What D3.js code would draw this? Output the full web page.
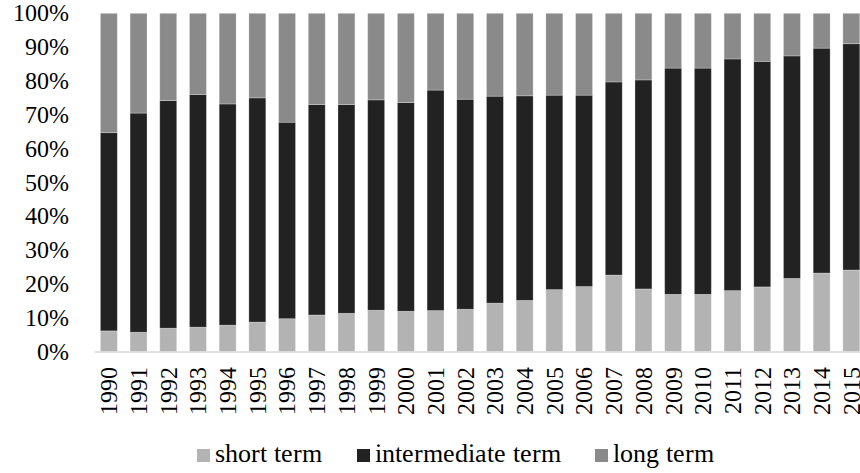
<!DOCTYPE html>
<html>
<head>
<meta charset="utf-8">
<script src="https://cdn.jsdelivr.net/npm/d3@7"></script>
<style>
  @font-face {
    font-family: 'RefSerif';
    src: local('Liberation Serif'), local('LiberationSerif'), local('LiberationSerif-Regular');
  }
  body { margin: 0; }
  #fig text { font-family: 'RefSerif', 'Liberation Serif', serif; }
</style>
</head>
<body>
<svg id="fig" width="860" height="473"></svg>
<script>
const years = ['1990', '1991', '1992', '1993', '1994', '1995', '1996', '1997', '1998', '1999',
  '2000', '2001', '2002', '2003', '2004', '2005', '2006', '2007', '2008', '2009',
  '2010', '2011', '2012', '2013', '2014', '2015'];

// shares in percent
const shortTerm = [6.1, 5.7, 6.9, 7.2, 7.8, 8.7, 9.7, 10.8, 11.3, 12.2,
  11.9, 12.1, 12.5, 14.3, 15.1, 18.3, 19.2, 22.6, 18.5, 16.9,
  16.9, 18.0, 19.1, 21.6, 23.2, 24.1];
const intermediateTerm = [58.6, 64.8, 67.3, 68.8, 65.4, 66.3, 58.1, 62.2, 61.7, 62.2,
  61.7, 65.2, 62.1, 61.2, 60.5, 57.5, 56.6, 57.1, 61.8, 66.9,
  66.9, 68.5, 66.7, 65.8, 66.5, 66.9];
const longTerm = [35.3, 29.5, 25.8, 24.0, 26.8, 25.0, 32.2, 27.0, 27.0, 25.6,
  26.4, 22.7, 25.4, 24.5, 24.4, 24.2, 24.2, 20.3, 19.7, 16.2,
  16.2, 13.5, 14.2, 12.6, 10.3, 9.0];

const seriesNames = ['short term', 'intermediate term', 'long term'];
const seriesKeys = ['short', 'intermediate', 'long'];
const colors = ['#b3b3b3', '#222222', '#8a8a8a'];
const yTicks = [0, 10, 20, 30, 40, 50, 60, 70, 80, 90, 100];

// legend item offsets (layout)
const legendX = [197, 357, 595];

const rows = years.map((y, i) => ({
  year: y,
  short: shortTerm[i],
  intermediate: intermediateTerm[i],
  long: longTerm[i],
}));

const svg = d3.select('#fig');

const xScale = d3.scaleBand()
  .domain(years)
  .range([94, 866.2])
  .paddingInner(0.43)
  .paddingOuter(0.215);

const yScale = d3.scaleLinear()
  .domain([0, 100])
  .range([351.5, 13.3]);

const stacked = d3.stack().keys(seriesKeys)(rows);

// bars
svg.append('g')
  .selectAll('g')
  .data(stacked)
  .enter()
  .append('g')
  .attr('fill', (d, i) => colors[i])
  .selectAll('rect')
  .data(d => d)
  .enter()
  .append('rect')
  .attr('x', d => xScale(d.data.year))
  .attr('width', xScale.bandwidth())
  .attr('y', d => yScale(d[1]))
  .attr('height', d => yScale(d[0]) - yScale(d[1]))
  .attr('stroke', '#ffffff')
  .attr('stroke-opacity', 0.35)
  .attr('stroke-width', 0.75);

// y axis: labels only
const yAxis = d3.axisLeft(yScale)
  .tickValues(yTicks)
  .tickFormat(d => d + '%')
  .tickSize(0)
  .tickPadding(0);

const gY = svg.append('g')
  .attr('transform', 'translate(68.5,0)')
  .call(yAxis)
  .attr('font-family', null)
  .attr('font-size', 24);
gY.select('.domain').remove();
gY.selectAll('text').attr('fill', '#000');

// x axis
const xAxis = d3.axisBottom(xScale).tickSize(0).tickPadding(0);
const gX = svg.append('g')
  .attr('transform', `translate(0,${yScale(0)})`)
  .call(xAxis)
  .attr('font-family', null)
  .attr('font-size', 24);
gX.select('.domain')
  .attr('stroke', '#d9d9d9')
  .attr('stroke-width', 1.5);
gX.selectAll('text')
  .attr('fill', '#000')
  .attr('text-anchor', 'end')
  .attr('transform', 'rotate(-90)')
  .attr('x', -15.5)
  .attr('y', 0)
  .attr('dy', '0.35em');

// legend
seriesNames.forEach((name, i) => {
  svg.append('rect')
    .attr('x', legendX[i])
    .attr('y', 449)
    .attr('width', 13)
    .attr('height', 13)
    .attr('fill', colors[i]);
  svg.append('text')
    .attr('x', legendX[i] + 18)
    .attr('y', 462)
    .attr('fill', '#000')
    .attr('font-size', 26)
    .text(name);
});
</script>
</body>
</html>
